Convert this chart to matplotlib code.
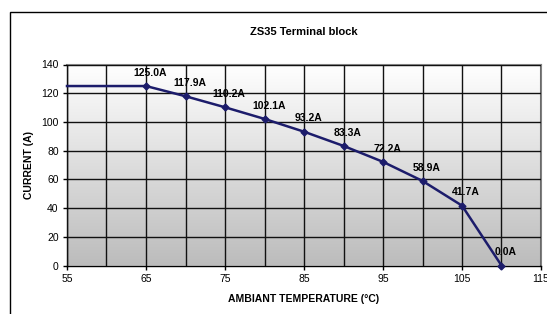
## ZS35 terminal block derating curve
import numpy as np
from matplotlib import pyplot as plt
from matplotlib.patches import Rectangle

plt.rcParams['font.family'] = ['Liberation Sans', 'DejaVu Sans']

# data
temp = [55, 65, 70, 75, 80, 85, 90, 95, 100, 105, 110]
current = [125.0, 125.0, 117.9, 110.2, 102.1, 93.2, 83.3, 72.2, 58.9, 41.7, 0.0]
label_temp = temp[1:]
label_current = current[1:]

fig = plt.figure(figsize=(5.47, 3.14), dpi=100)
fig.patch.set_facecolor('white')

# outer chart frame (runs off the right and bottom edges)
fig.patches.append(Rectangle((10/547, -0.1), 1.0, 1 - 12/314 + 0.1,
                             transform=fig.transFigure, fill=False,
                             edgecolor='black', linewidth=1.0))

ax = fig.add_axes([67/547, 1 - 265.5/314, 474/547, 201/314])

# gradient background white -> grey
grad = np.linspace(0, 1, 256).reshape(-1, 1)
ax.imshow(grad, extent=[55, 115, 0, 140], aspect='auto', origin='upper',
          cmap=plt.matplotlib.colors.LinearSegmentedColormap.from_list(
              'g', ['#ffffff', '#bcbcbc']), zorder=0)

ax.set_xlim(55, 115)
ax.set_ylim(0, 140)
ax.set_xticks(np.arange(55, 116, 10))
ax.set_xticks(np.arange(55, 116, 5), minor=True)
ax.set_yticks(np.arange(0, 141, 20))
ax.tick_params(axis='both', labelsize=7.5, length=3, width=1, color='black', pad=3)
ax.tick_params(axis='x', which='minor', length=0)
ax.grid(True, which='both', color='#111111', linewidth=1.0, zorder=1)
ax.set_axisbelow(False)

for s in ['top', 'right']:
    ax.spines[s].set_color('#808080')
    ax.spines[s].set_linewidth(1.5)
for s in ['left', 'bottom']:
    ax.spines[s].set_color('black')
    ax.spines[s].set_linewidth(1.0)

ax.plot(temp, current, color='#1c1c6b', linewidth=1.8, zorder=3, clip_on=False)
ax.plot(label_temp, label_current, linestyle='none', marker='D', markersize=3.5,
        color='#1c1c6b', zorder=4, clip_on=False)

for t, c in zip(label_temp, label_current):
    ax.annotate(f"{c:.1f}A", (t, c), xytext=(3, 6), textcoords='offset points',
                ha='center', va='bottom', fontsize=7.5, fontweight='bold', zorder=5)

ax.set_title("ZS35 Terminal block", fontsize=8, fontweight='bold', pad=21)
ax.set_xlabel("AMBIANT TEMPERATURE (°C)", fontsize=7.5, fontweight='bold', labelpad=7)
ax.set_ylabel("CURRENT (A)", fontsize=7.5, fontweight='bold', labelpad=5)

plt.savefig("out.png", dpi=100)
